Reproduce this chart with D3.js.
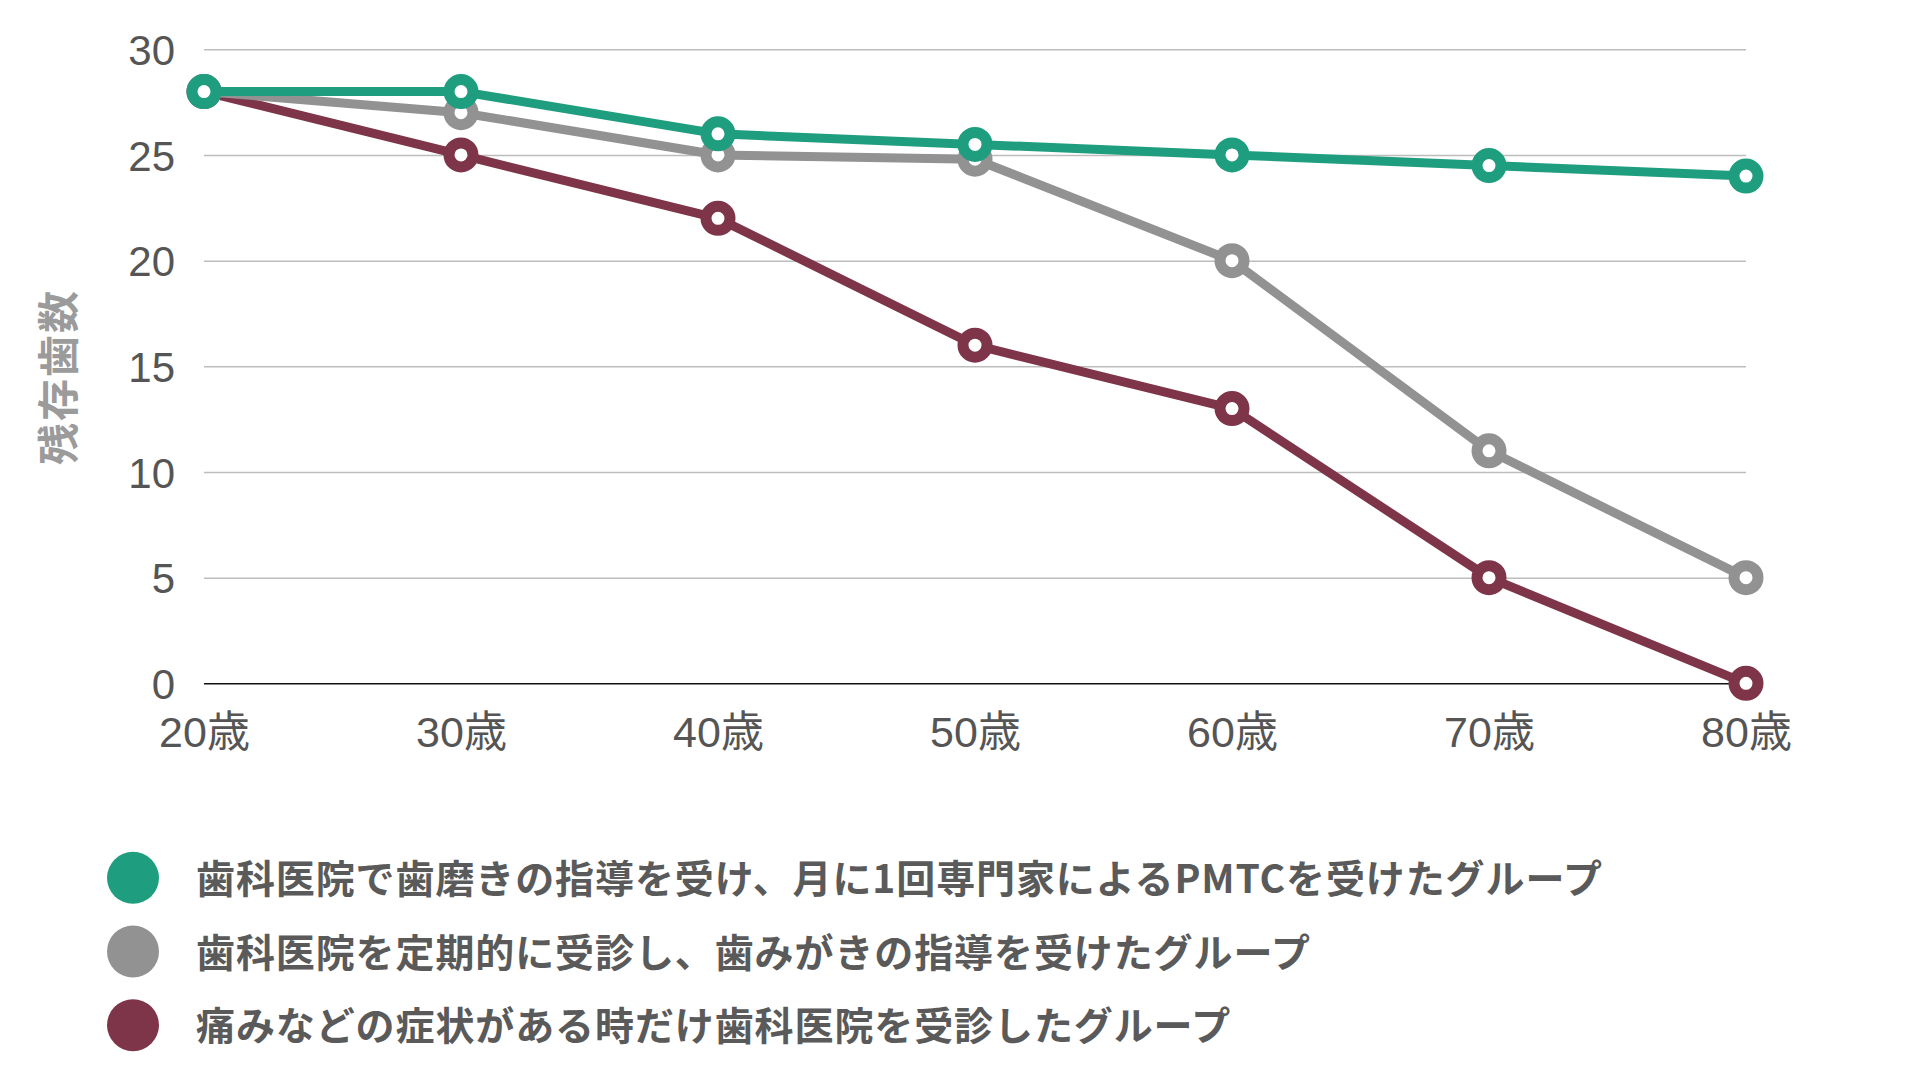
<!DOCTYPE html>
<html>
<head>
<meta charset="utf-8">
<script src="https://cdn.jsdelivr.net/npm/d3@7"></script>
<style>
  html, body { margin: 0; padding: 0; background: #fff; }
  svg { display: block; }
</style>
</head>
<body>
<svg id="chart" width="1920" height="1080"></svg>
<script>
const categories = ["20歳", "30歳", "40歳", "50歳", "60歳", "70歳", "80歳"];
const seriesNames = [
  "歯科医院で歯磨きの指導を受け、月に1回専門家によるPMTCを受けたグループ",
  "歯科医院を定期的に受診し、歯みがきの指導を受けたグループ",
  "痛みなどの症状がある時だけ歯科医院を受診したグループ"
];
const seriesColors = ["#1e9e7e", "#929292", "#7e3449"];
const greenValues = [28, 28, 26, 25.5, 25, 24.5, 24];
const grayValues = [28, 27, 25, 24.8, 20, 11, 5];
const maroonValues = [28, 25, 22, 16, 13, 5, 0];
const yTicks = [0, 5, 10, 15, 20, 25, 30];
const yTitle = "残存歯数";

const series = [
  { name: seriesNames[0], color: seriesColors[0], values: greenValues },
  { name: seriesNames[1], color: seriesColors[1], values: grayValues },
  { name: seriesNames[2], color: seriesColors[2], values: maroonValues }
];

const svg = d3.select("#chart");
const plotLeft = 204, plotRight = 1746, plotTop = 49.3, plotBottom = 683.3;

const x = d3.scalePoint().domain(categories).range([plotLeft, plotRight]);
const y = d3.scaleLinear().domain([0, 30]).range([plotBottom, plotTop]);

const numFont = "'Liberation Sans', Arial, 'Noto Sans CJK JP', sans-serif";
const cjkFont = "'Noto Sans CJK JP', 'Liberation Sans', sans-serif";

// Y axis with gridlines
const yAxis = svg.append("g")
  .attr("transform", `translate(${plotLeft},0)`)
  .call(d3.axisLeft(y).tickValues(yTicks).tickSize(-(plotRight - plotLeft)).tickPadding(29));
yAxis.select(".domain").remove();
yAxis.selectAll(".tick line")
  .attr("stroke", d => d === 0 ? "#111" : "#bdbdbd")
  .attr("stroke-width", 1.5);
yAxis.selectAll(".tick text")
  .attr("fill", "#555")
  .attr("font-family", numFont)
  .attr("font-size", 42)
  .attr("dy", "0.36em");

// X axis labels
const xAxis = svg.append("g")
  .attr("transform", `translate(0,${plotBottom})`)
  .call(d3.axisBottom(x).tickSize(0).tickPadding(0));
xAxis.select(".domain").remove();
xAxis.selectAll(".tick text")
  .attr("fill", "#555")
  .attr("font-family", numFont)
  .attr("font-size", 43)
  .attr("dy", null)
  .attr("y", 63.5);

// Y title
svg.append("text")
  .attr("transform", `translate(55,377) rotate(-90)`)
  .attr("text-anchor", "middle")
  .attr("dominant-baseline", "central")
  .attr("fill", "#9b9b9b")
  .attr("font-family", cjkFont)
  .attr("font-weight", "bold")
  .attr("font-size", 42)
  .attr("letter-spacing", 2)
  .text(yTitle);

// Lines
const line = d3.line()
  .x((d, i) => x(categories[i]))
  .y(d => y(d));

const drawOrder = [series[2], series[1], series[0]];
drawOrder.forEach(s => {
  const g = svg.append("g");
  g.append("path")
    .datum(s.values)
    .attr("fill", "none")
    .attr("stroke", s.color)
    .attr("stroke-width", 9)
    .attr("stroke-linejoin", "round")
    .attr("d", line);
  g.selectAll("circle")
    .data(s.values)
    .join("circle")
    .attr("cx", (d, i) => x(categories[i]))
    .attr("cy", d => y(d))
    .attr("r", 12)
    .attr("fill", "#fff")
    .attr("stroke", s.color)
    .attr("stroke-width", 11);
});

// Legend
const legendY = d3.scaleBand().domain(seriesNames).range([841, 1062]);
const legend = svg.append("g");
const items = legend.selectAll("g")
  .data(series)
  .join("g")
  .attr("transform", d => `translate(0,${legendY(d.name) + legendY.bandwidth() / 2})`);
items.append("circle")
  .attr("cx", 133)
  .attr("cy", 0)
  .attr("r", 26)
  .attr("fill", d => d.color);
items.append("text")
  .attr("x", 196)
  .attr("y", 15)
  .attr("fill", "#5a5a5a")
  .attr("font-family", cjkFont)
  .attr("font-weight", "bold")
  .attr("font-size", 39)
  .attr("letter-spacing", 0.9)
  .text(d => d.name);
</script>
</body>
</html>
